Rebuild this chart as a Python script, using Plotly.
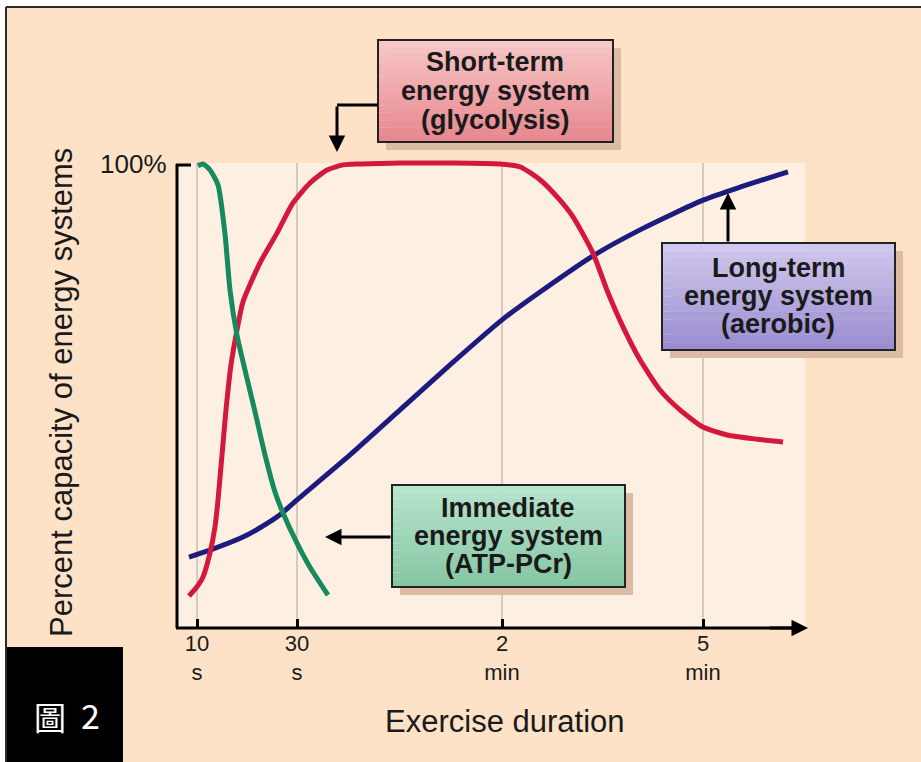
import plotly.graph_objects as go

# ---------------- data (x: schematic duration position, y: % capacity) ----------------
tick_pos = [0.0, 1.0, 3.05, 5.06]
tick_labels = ["10<br>s", "30<br>s", "2<br>min", "5<br>min"]

immediate_x = [0.01, 0.06, 0.13, 0.21, 0.28, 0.33, 0.40, 0.48, 0.58, 0.68, 0.78, 0.86, 1.00, 1.13, 1.31]
immediate_y = [99.6, 100.0, 98.7, 95.5, 84.9, 72.8, 63.1, 55.6, 46.6, 37.3, 29.3, 24.8, 18.3, 13.1, 7.1]

short_x = [-0.08, -0.01, 0.06, 0.13, 0.18, 0.21, 0.25, 0.29, 0.34, 0.40, 0.46, 0.63, 0.80, 0.96,
           1.13, 1.30, 1.46, 1.63, 2.03, 2.53, 3.03, 3.23, 3.43, 3.63, 3.76, 3.96, 4.10, 4.26,
           4.43, 4.63, 4.83, 5.06, 5.30, 5.60, 5.86]
short_y = [6.9, 8.6, 11.0, 16.2, 21.8, 27.6, 37.3, 47.0, 56.7, 64.2, 70.3, 78.7, 85.1, 91.6,
           95.9, 98.7, 99.8, 100.0, 100.2, 100.2, 100.0, 99.4, 96.6, 92.2, 88.6, 80.8, 72.8, 64.9,
           57.8, 51.3, 47.0, 43.3, 41.6, 40.7, 40.1]

long_x = [-0.08, 0.13, 0.46, 0.63, 0.83, 1.00, 1.53, 2.03, 2.53, 3.05, 3.43, 3.96, 4.43, 5.06, 5.43, 5.91]
long_y = [15.3, 16.8, 19.6, 21.6, 24.4, 27.6, 37.3, 47.0, 56.7, 66.4, 72.4, 80.2, 85.8, 92.2, 95.0, 98.3]

# ---------------- layout geometry (pixels) ----------------
W, H = 921, 762
PL, PR, PT, PB = 177, 805, 158, 628
X_RANGE = [-0.20, 6.08]
Y_RANGE = [0, 101.29]


def xp(px):
    return (px - PL) / (PR - PL)


def yp(py):
    return (PB - py) / (PB - PT)


BG = "#fde2c7"
PANEL = "#fdf0e3"
FONT = "Liberation Sans, Arial, Helvetica, sans-serif"

fig = go.Figure()

fig.add_trace(go.Scatter(x=long_x, y=long_y, mode="lines",
                         line=dict(color="#1d1b7e", width=5, shape="spline", smoothing=0.6),
                         hoverinfo="skip", showlegend=False))
fig.add_trace(go.Scatter(x=short_x, y=short_y, mode="lines",
                         line=dict(color="#d4183c", width=5, shape="spline", smoothing=0.6),
                         hoverinfo="skip", showlegend=False))
fig.add_trace(go.Scatter(x=immediate_x, y=immediate_y, mode="lines",
                         line=dict(color="#168a5e", width=5, shape="spline", smoothing=0.6),
                         hoverinfo="skip", showlegend=False))

shapes = []
# white outer strips and dark frame lines
shapes.append(dict(type="rect", xref="paper", yref="paper", x0=xp(0), x1=xp(W), y0=yp(0), y1=yp(6),
                   fillcolor="white", line=dict(width=0), layer="below"))
shapes.append(dict(type="rect", xref="paper", yref="paper", x0=xp(0), x1=xp(5), y0=yp(0), y1=yp(H),
                   fillcolor="white", line=dict(width=0), layer="below"))
shapes.append(dict(type="line", xref="paper", yref="paper", x0=xp(6), x1=xp(W), y0=yp(7), y1=yp(7),
                   line=dict(color="#2b2b2b", width=2), layer="below"))
shapes.append(dict(type="line", xref="paper", yref="paper", x0=xp(6), x1=xp(6), y0=yp(7), y1=yp(H),
                   line=dict(color="#2b2b2b", width=2), layer="below"))
# light panel
shapes.append(dict(type="rect", xref="paper", yref="paper", x0=0, x1=1, y0=0, y1=yp(163),
                   fillcolor=PANEL, line=dict(width=0), layer="below"))
# vertical guide lines at ticks
for tp in tick_pos:
    shapes.append(dict(type="line", xref="x", yref="paper", x0=tp, x1=tp, y0=0, y1=yp(163),
                       line=dict(color="#cbbdb0", width=1.5), layer="below"))
# y axis line and top tick
shapes.append(dict(type="line", xref="paper", yref="paper", x0=xp(177), x1=xp(177), y0=0, y1=yp(164),
                   line=dict(color="black", width=3), layer="above"))
shapes.append(dict(type="line", xref="paper", yref="paper", x0=xp(176), x1=xp(191), y0=yp(165), y1=yp(165),
                   line=dict(color="black", width=3), layer="above"))
# x axis line
shapes.append(dict(type="line", xref="paper", yref="paper", x0=xp(176), x1=xp(798), y0=0, y1=0,
                   line=dict(color="black", width=3), layer="above"))


def hexrgb(h):
    h = h.lstrip("#")
    return tuple(int(h[i:i + 2], 16) for i in (0, 2, 4))


def add_box(x0, y0, x1, y1, top, bottom, n=14):
    shapes.append(dict(type="rect", xref="paper", yref="paper",
                       x0=xp(x0 + 8), x1=xp(x1 + 8), y0=yp(y0 + 8), y1=yp(y1 + 8),
                       fillcolor="#dbbba3", line=dict(width=0), layer="above"))
    t, b = hexrgb(top), hexrgb(bottom)
    for i in range(n):
        f = i / (n - 1)
        c = tuple(round(t[k] + (b[k] - t[k]) * f) for k in range(3))
        ya = y0 + (y1 - y0) * i / n
        yb = y0 + (y1 - y0) * (i + 1) / n
        shapes.append(dict(type="rect", xref="paper", yref="paper",
                           x0=xp(x0), x1=xp(x1), y0=yp(ya), y1=yp(yb),
                           fillcolor="rgb(%d,%d,%d)" % c, line=dict(width=0), layer="above"))
    shapes.append(dict(type="rect", xref="paper", yref="paper",
                       x0=xp(x0), x1=xp(x1), y0=yp(y0), y1=yp(y1),
                       fillcolor="rgba(0,0,0,0)", line=dict(color="#222222", width=2), layer="above"))


add_box(378, 40, 613, 142, "#f7c6c6", "#e8878f")
add_box(662, 243, 895, 350, "#cfc8ee", "#9a8dd2")
add_box(392, 485, 625, 587, "#b6e4cd", "#84c8a4")

# arrow stem for short-term box
shapes.append(dict(type="line", xref="paper", yref="paper", x0=xp(378), x1=xp(337), y0=yp(105), y1=yp(105),
                   line=dict(color="black", width=3), layer="above"))
# black label box
shapes.append(dict(type="rect", xref="paper", yref="paper", x0=xp(7), x1=xp(123), y0=yp(647), y1=yp(H + 2),
                   fillcolor="black", line=dict(width=0), layer="above"))

annotations = []


def text(px, py, s, size, bold=False, color="#1a1a1a", angle=0, family=FONT):
    annotations.append(dict(xref="paper", yref="paper", x=xp(px), y=yp(py), text=("<b>%s</b>" % s) if bold else s,
                            showarrow=False, xanchor="center", yanchor="middle", textangle=angle,
                            font=dict(size=size, color=color, family=family)))


def arrow(tip_x, tip_y, tail_dx, tail_dy):
    annotations.append(dict(xref="paper", yref="paper", x=xp(tip_x), y=yp(tip_y), ax=tail_dx, ay=tail_dy,
                            axref="pixel", ayref="pixel", text="", showarrow=True,
                            arrowhead=2, arrowsize=1.1, arrowwidth=3, arrowcolor="black"))


for py, s in zip([62, 91, 120], ["Short-term", "energy system", "(glycolysis)"]):
    text(495, py, s, 27, bold=True)
for py, s in zip([268, 296, 324], ["Long-term", "energy system", "(aerobic)"]):
    text(778, py, s, 27, bold=True)
for py, s in zip([508, 536, 564], ["Immediate", "energy system", "(ATP-PCr)"]):
    text(508, py, s, 27, bold=True)

arrow(337, 152, 0, -47)
arrow(728, 193, 0, 50)
arrow(325, 537, 67, 0)
arrow(808, 628, -40, 0)

text(133, 164, "100%", 26)
text(61, 393, "Percent capacity of energy systems", 31, angle=-90)
text(505, 721, "Exercise duration", 31)
text(50, 716, "圖", 32, color="white", family="Noto Sans CJK TC, sans-serif")
text(90, 714, "2", 34, color="white", family="Noto Sans CJK TC, sans-serif")

fig.update_layout(
    width=W, height=H,
    margin=dict(l=PL, r=W - PR, t=PT, b=H - PB, pad=0),
    paper_bgcolor=BG, plot_bgcolor="rgba(0,0,0,0)",
    shapes=shapes, annotations=annotations,
    showlegend=False,
    font=dict(family=FONT, color="#1a1a1a"),
    xaxis=dict(range=X_RANGE, tickvals=tick_pos, ticktext=tick_labels, ticks="inside", ticklen=9,
               tickwidth=3, tickcolor="black", showgrid=False, zeroline=False, showline=False,
               tickfont=dict(size=22, color="#1a1a1a", family=FONT), fixedrange=True),
    yaxis=dict(range=Y_RANGE, showticklabels=False, ticks="", showgrid=False, zeroline=False,
               showline=False, fixedrange=True),
)

fig.write_html("out.html", config={"displayModeBar": False},
               post_script="document.body.style.margin='0';document.body.style.overflow='hidden';")
